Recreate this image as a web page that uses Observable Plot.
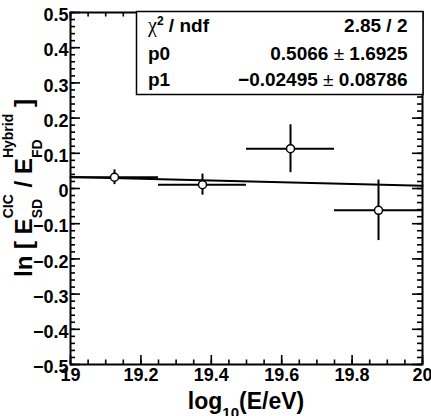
<!DOCTYPE html>
<html><head><meta charset="utf-8">
<script src="https://cdn.jsdelivr.net/npm/d3@7"></script>
<script src="https://cdn.jsdelivr.net/npm/@observablehq/plot@0.6"></script>
<style>
html,body{margin:0;padding:0;background:#fff;}
#chart{position:relative;width:431px;height:416px;overflow:hidden;}
</style></head><body><div id="chart"></div>
<script>
// ---- data ----
const binCenters = [19.125, 19.375, 19.625, 19.875];
const binHalfWidths = [0.125, 0.125, 0.125, 0.125];
const lnRatio = [0.032, 0.011, 0.113, -0.062];
const lnRatioErr = [0.021, 0.030, 0.068, 0.086];
const fitP0 = 0.5066;
const fitP1 = -0.02495;
const fitRange = [19, 20];
const xMajorTicks = [19, 19.2, 19.4, 19.6, 19.8, 20];
const xTickLabels = ["19", "19.2", "19.4", "19.6", "19.8", "20"];
const yMajorTicks = [0.5, 0.4, 0.3, 0.2, 0.1, 0, -0.1, -0.2, -0.3, -0.4, -0.5];
const yTickLabels = ["0.5", "0.4", "0.3", "0.2", "0.1", "0", "\u22120.1", "\u22120.2", "\u22120.3", "\u22120.4", "\u22120.5"];
const statLabels = ["\u03c7\u00b2 / ndf", "p0", "p1"];
const statValues = ["2.85 / 2", "0.5066 \u00b1 1.6925", "\u22120.02495 \u00b1 0.08786"];

// ---- layout ----
const W = 431, H = 416, mL = 70, mR = 9, mT = 12, mB = 52;
const iw = W - mL - mR, ih = H - mT - mB;
const FONT = '"Liberation Sans", Arial, Helvetica, sans-serif';
const xMinorTicks = d3.range(0, 21).map(i => 19 + i * 0.05);
const yMinorTicks = d3.range(0, 51).map(i => -0.5 + i * 0.02);

const pts = binCenters.map((x, i) => ({x, xe: binHalfWidths[i], y: lnRatio[i], ye: lnRatioErr[i]}));
const fit = fitRange.map(x => ({x, y: fitP0 + fitP1 * x}));

const plot = Plot.plot({
  width: W, height: H,
  marginLeft: mL, marginRight: mR, marginTop: mT, marginBottom: mB,
  x: {domain: [19, 20], axis: null},
  y: {domain: [-0.5, 0.5], axis: null},
  style: {fontFamily: FONT, background: "white", color: "black"},
  marks: [
    Plot.line(fit, {x: "x", y: "y", stroke: "black", strokeWidth: 2}),
    Plot.ruleY(pts, {y: "y", x1: d => d.x - d.xe, x2: d => d.x + d.xe, stroke: "black", strokeWidth: 2}),
    Plot.ruleX(pts, {x: "x", y1: d => d.y - d.ye, y2: d => d.y + d.ye, stroke: "black", strokeWidth: 2}),
    Plot.dot(pts, {x: "x", y: "y", r: 4, fill: "white", stroke: "black", strokeWidth: 1.5}),
    // x ticks bottom & top
    Plot.tickX(xMajorTicks, {x: d => d, insetTop: ih - 9, stroke: "black", strokeWidth: 1.6}),
    Plot.tickX(xMajorTicks, {x: d => d, insetBottom: ih - 9, stroke: "black", strokeWidth: 1.6}),
    Plot.tickX(xMinorTicks, {x: d => d, insetTop: ih - 4.5, stroke: "black", strokeWidth: 1.6}),
    Plot.tickX(xMinorTicks, {x: d => d, insetBottom: ih - 4.5, stroke: "black", strokeWidth: 1.6}),
    // y ticks left & right
    Plot.tickY(yMajorTicks, {y: d => d, insetRight: iw - 10, stroke: "black", strokeWidth: 1.6}),
    Plot.tickY(yMajorTicks, {y: d => d, insetLeft: iw - 10, stroke: "black", strokeWidth: 1.6}),
    Plot.tickY(yMinorTicks, {y: d => d, insetRight: iw - 5, stroke: "black", strokeWidth: 1.6}),
    Plot.tickY(yMinorTicks, {y: d => d, insetLeft: iw - 5, stroke: "black", strokeWidth: 1.6}),
    Plot.frame({stroke: "black", strokeWidth: 2}),
    Plot.text(xMajorTicks, {x: d => d, text: (d, i) => xTickLabels[i], frameAnchor: "bottom", lineAnchor: "top", dy: 4, fontSize: 18, fontWeight: "bold", fill: "black"}),
    Plot.text(yMajorTicks, {y: d => d, text: (d, i) => yTickLabels[i], frameAnchor: "left", textAnchor: "end", dx: -2, dy: 3, fontSize: 18, fontWeight: "bold", fill: "black"})
  ]
});
document.getElementById("chart").appendChild(plot);

const svg = d3.select(plot);

function rich(g, items) {
  let x = 0;
  for (const it of items) {
    if (it.sup !== undefined) {
      const a = g.append("text").attr("x", x).attr("y", it.supY).attr("font-size", it.size).style("white-space", "pre").text(it.sup);
      const b = g.append("text").attr("x", x).attr("y", it.subY).attr("font-size", it.size).style("white-space", "pre").text(it.sub);
      x += Math.max(a.node().getComputedTextLength(), b.node().getComputedTextLength());
    } else {
      const a = g.append("text").attr("x", x).attr("y", it.y || 0).attr("font-size", it.size).style("white-space", "pre").text(it.t);
      x += a.node().getComputedTextLength();
    }
  }
  return x;
}

// x title
{
  const g = svg.append("g").attr("font-family", FONT).attr("font-weight", "bold").attr("fill", "black").attr("text-anchor", "start");
  const len = rich(g, [
    {t: "log", size: 23},
    {t: "10", size: 15, y: 9},
    {t: "(E/eV)", size: 23}
  ]);
  g.attr("transform", `translate(${mL + iw / 2 - len / 2},409)`);
}
// y title
{
  const g = svg.append("g").attr("font-family", FONT).attr("font-weight", "bold").attr("fill", "black").attr("text-anchor", "start");
  const len = rich(g, [
    {t: "ln [ ", size: 24},
    {t: "E", size: 24},
    {sup: "CIC", sub: "SD", size: 14, supY: -19, subY: 10},
    {t: " / ", size: 24},
    {t: "E", size: 24},
    {sup: "Hybrid", sub: "FD", size: 14, supY: -19, subY: 10},
    {t: " ]", size: 24}
  ]);
  g.attr("transform", `translate(32,${mT + ih / 2 + len / 2}) rotate(-90)`);
}
// stats box
{
  const g = svg.append("g").attr("font-family", FONT).attr("font-weight", "bold").attr("fill", "black").attr("text-anchor", "start");
  g.append("rect").attr("x", 136.5).attr("y", 11.5).attr("width", 286.5).attr("height", 83)
    .attr("fill", "white").attr("stroke", "black").attr("stroke-width", 1.5);
  const baselines = [31.5, 59.5, 85.5];
  statLabels.forEach((lab, i) => {
    const t = g.append("text").attr("x", 148).attr("y", baselines[i]).attr("font-size", 19).style("white-space", "pre");
    if (lab.includes("\u00b2")) {
      const [a, b] = lab.split("\u00b2");
      t.append("tspan").attr("font-family", '"Liberation Serif", serif').attr("font-weight", "normal").attr("font-size", 20).text(a);
      t.append("tspan").attr("font-size", 12).attr("dy", -7).text("2");
      t.append("tspan").attr("dy", 7).text(b);
    } else {
      t.text(lab);
    }
    const v = g.append("text").attr("x", 407.5).attr("y", baselines[i]).attr("font-size", 19)
      .attr("text-anchor", "end").style("white-space", "pre");
    const parts = statValues[i].split("\u00b1");
    v.append("tspan").text(parts[0]);
    if (parts.length > 1) {
      v.append("tspan").attr("font-weight", "normal").text("\u00b1");
      v.append("tspan").text(parts[1]);
    }
  });
}
</script></body></html>
